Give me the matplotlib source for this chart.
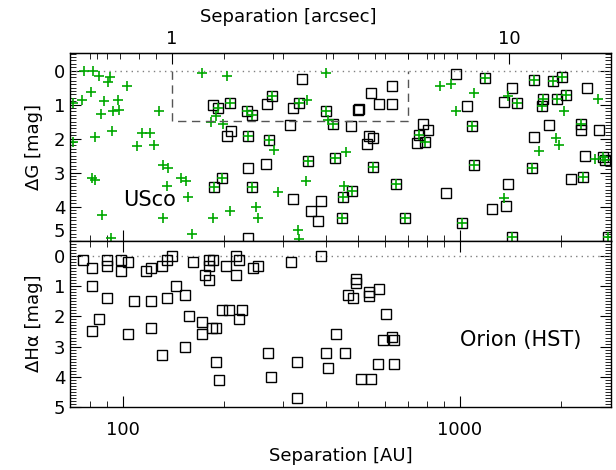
import matplotlib
matplotlib.use('Agg')
import matplotlib.pyplot as plt
from matplotlib.ticker import MultipleLocator, FixedLocator, FuncFormatter, NullFormatter, LogLocator

# distance used for the arcsec axis (AU per arcsec)
dist_pc = 140.0

# USco: green crosses only
usco_plus_sep = [76.8, 81.5, 85.2, 91.7, 90.3, 102.8, 80.5, 71.1, 75.6, 88.2, 97.0, 93.4, 97.5,
                 86.2, 128.1, 171.6, 204.4, 400.3, 182.8, 188.8, 198.9, 92.8, 113.9, 120.5, 71.3,
                 82.8, 110, 124.1, 281.2, 132, 136.6, 81.2, 82.8, 148.9, 154.1, 135.1, 156.5,
                 349.1, 289.6, 208.2, 248.1, 252.6, 87.0, 132, 184.9, 160.2, 332, 92.3, 333.6,
                 351.6, 407.5, 874.1, 942.3, 1103, 1394, 2578, 2044, 975, 1927, 1975, 1723,
                 459.8, 2520, 453.6, 1356]
usco_plus_dg = [0.0, 0.0, 0.16, 0.2, 0.34, 0.45, 0.64, 0.94, 0.88, 0.89, 0.86, 1.18, 1.16,
                1.27, 1.19, 0.06, 0.15, 0.06, 1.5, 1.33, 1.57, 1.79, 1.84, 1.84, 2.09,
                1.96, 2.23, 2.19, 2.35, 2.77, 2.87, 3.15, 3.21, 3.17, 3.26, 3.38, 3.71,
                3.24, 3.56, 4.13, 4.0, 4.32, 4.26, 4.34, 4.32, 4.81, 4.69, 4.92, 4.95,
                0.88, 1.45, 0.45, 0.39, 0.65, 0.74, 0.84, 1.18, 1.18, 1.99, 2.2, 2.36,
                2.38, 2.61, 3.39, 3.74]

# USco: crosses inside squares
usco_both_sep = [191.4, 208.2, 233.3, 241.4, 276.8, 334.2, 400.3, 419.9, 234.9, 271.8, 355.4,
                 426.6, 197.5, 187, 242.4, 449.6, 446.6, 1189, 1662, 1888, 2008, 1476, 1770,
                 1751, 1940, 2063, 758.7, 788.8, 1090, 2287, 2668, 2699, 551.8, 1103, 1636,
                 2312, 647.1, 478.1, 688.2, 1014, 1427, 2760]
usco_both_dg = [1.1, 0.96, 1.18, 1.3, 0.74, 0.94, 1.19, 1.57, 1.91, 2.04, 2.65,
                2.58, 3.17, 3.41, 3.41, 3.71, 4.32, 0.22, 0.29, 0.32, 0.2, 0.94, 0.84,
                1.04, 0.84, 0.71, 1.89, 2.09, 1.62, 1.57, 2.53, 2.63, 2.84, 2.77, 2.85,
                3.14, 3.33, 3.53, 4.32, 4.49, 4.88, 4.88]

# USco: squares only
usco_sq_sep = [339.8, 184.9, 268.6, 320.8, 313.6, 203.5, 209.6, 234.9, 266.2, 320.8, 387.6,
               361.3, 379, 235.9, 975, 2391, 1427, 1356, 1053, 628.3, 544.4, 576, 628.3,
               500.2, 503.6, 474.9, 776.5, 806.8, 748.4, 538.2, 554.1, 529.7, 1841, 2287,
               2596, 1664, 2354, 2135, 1388, 910.5, 1372, 1245]
usco_sq_dg = [0.25, 1.01, 0.99, 1.09, 1.6, 1.92, 1.79, 2.87, 2.74, 3.78, 3.82,
              4.12, 4.41, 4.93, 0.1, 0.52, 0.5, 0.93, 1.03, 0.45, 0.65, 0.99, 0.99,
              1.16, 1.12, 1.62, 1.57, 1.74, 2.12, 1.92, 1.99, 2.16, 1.6, 1.74,
              1.76, 1.96, 2.5, 3.19, 3.33, 3.61, 3.97, 4.08]

# Orion (HST)
orion_sep = [76.4, 80.9, 90.0, 90.0, 98.6, 103.5, 98.8, 117.2, 121.3, 130.5, 135.1, 139.8,
             162, 180.4, 184.9, 180.4, 175.5, 180.4, 202.6, 216.9, 221.4, 216.9, 243.1,
             252.6, 315.1, 387.6, 80.9, 90.0, 108, 121.3, 135.1, 143.9, 153.1, 85.2, 80.9,
             103.5, 121.3, 157.3, 171.6, 171.6, 183.7, 189.2, 197.5, 207.2, 225.5, 221.4,
             130.5, 153.1, 189.2, 193.5, 270.4, 275, 328.3, 328.3, 401.1, 405.8, 429.5,
             492.4, 492.4, 467.1, 483.4, 538.2, 538.2, 577.2, 604.3, 593.2, 628.3, 639.6,
             456.7, 573.3, 639.6, 509.5, 545.5]
orion_dha = [0.11, 0.4, 0.11, 0.31, 0.11, 0.2, 0.5, 0.5, 0.38, 0.31, 0.11, 0.0,
             0.2, 0.11, 0.11, 0.31, 0.61, 0.8, 0.31, 0.0, 0.11, 0.61, 0.4,
             0.31, 0.2, 0.0, 0.99, 1.39, 1.5, 1.5, 1.39, 0.99, 1.3, 2.1, 2.49,
             2.6, 2.4, 2.0, 2.2, 2.6, 2.4, 2.4, 1.8, 1.8, 1.8, 2.1,
             3.29, 3.01, 3.51, 4.12, 3.21, 4.01, 3.51, 4.7, 3.2, 3.7, 2.6,
             0.75, 0.88, 1.3, 1.39, 1.19, 1.33, 1.08, 1.91, 2.79, 2.68, 2.79,
             3.2, 3.59, 3.59, 4.09, 4.09]

# dashed box (AU, mag)
box_sep = [140, 700]
box_dg = [0, 1.48]

mag_ticks = [0, 1, 2, 3, 4, 5]

green = '#00a800'
fs = 13

fig = plt.figure(figsize=(6.16, 4.70), dpi=100)
ax1 = fig.add_axes([0.1136, 0.488, 0.878, 0.3995])
ax2 = fig.add_axes([0.1136, 0.1347, 0.878, 0.3533], sharex=ax1)

for ax in (ax1, ax2):
    ax.set_xscale('log')
    ax.set_xlim(69.8, 2805)
    ax.set_ylim(5.0, -0.52)
    ax.axhline(0, color='grey', ls=(0, (1, 3)), lw=1)
    ax.yaxis.set_minor_locator(MultipleLocator(0.1))
    ax.tick_params(which='both', direction='in', top=True, right=True, labelsize=fs)
    ax.tick_params(which='major', length=8, width=0.8)
    ax.tick_params(which='minor', length=4, width=0.6)
    for s in ax.spines.values():
        s.set_linewidth(1)

# top panel
ax1.plot(usco_sq_sep, usco_sq_dg, 's', ms=6.5, mfc='none', mec='k', mew=1)
ax1.plot(usco_both_sep, usco_both_dg, 's', ms=6.5, mfc='none', mec='k', mew=1)
ax1.plot(usco_both_sep, usco_both_dg, '+', ms=7, color=green, mew=1.2)
ax1.plot(usco_plus_sep, usco_plus_dg, '+', ms=7, color=green, mew=1.2)
ax1.plot([box_sep[0], box_sep[0], box_sep[1], box_sep[1]],
         [box_dg[0], box_dg[1], box_dg[1], box_dg[0]], color='#555555', ls=(0, (6, 4)), lw=1)
ax1.text(0.0985, 0.217, 'USco', transform=ax1.transAxes, fontsize=15, va='center', ha='left')
ax1.set_ylabel('ΔG [mag]', fontsize=fs, labelpad=8)
ax1.tick_params(axis='x', labelbottom=False, top=False)
ax1.set_yticks(mag_ticks)
labs = ax1.set_yticklabels([str(m) for m in mag_ticks])
labs[-1].set_va('bottom')

# arcsec axis
sec = ax1.secondary_xaxis('top', functions=(lambda x: x / dist_pc, lambda x: x * dist_pc))
sec.xaxis.set_major_locator(FixedLocator([1, 10]))
sec.xaxis.set_minor_locator(LogLocator(base=10, subs=range(2, 10)))
sec.xaxis.set_major_formatter(FuncFormatter(lambda v, p: '%g' % v))
sec.xaxis.set_minor_formatter(NullFormatter())
sec.tick_params(which='both', direction='in', labelsize=fs)
sec.tick_params(which='major', length=8, width=0.8)
sec.tick_params(which='minor', length=4, width=0.6)
sec.set_xlabel('Separation [arcsec]', fontsize=fs, labelpad=6, x=0.403)

# bottom panel
ax2.plot(orion_sep, orion_dha, 's', ms=6.5, mfc='none', mec='k', mew=1)
ax2.text(0.721, 0.40, 'Orion (HST)', transform=ax2.transAxes, fontsize=15, va='center', ha='left')
ax2.set_ylabel('ΔHα [mag]', fontsize=fs, labelpad=8)
ax2.set_yticks(mag_ticks)
ax2.xaxis.set_major_formatter(FuncFormatter(lambda v, p: '%g' % v))
ax2.xaxis.set_minor_formatter(NullFormatter())
ax2.tick_params(axis='x', pad=10)
ax2.set_xlabel('Separation [AU]', fontsize=fs, labelpad=6)

fig.savefig('out.png', dpi=100)
